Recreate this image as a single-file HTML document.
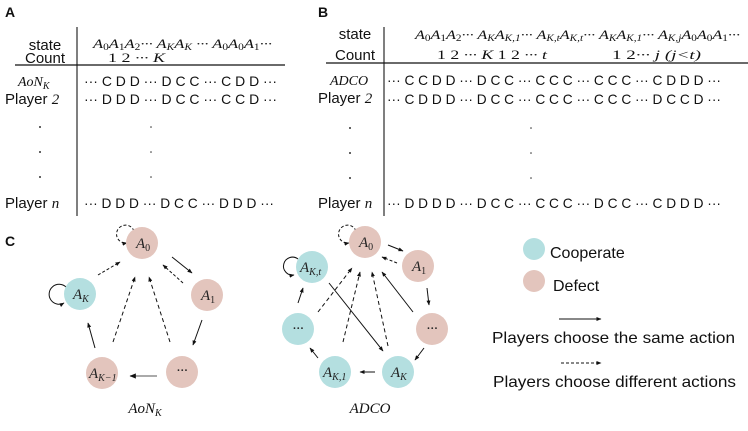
<!DOCTYPE html>
<html><head><meta charset="utf-8"><style>
html,body{margin:0;padding:0;background:#fff}
svg{display:block}
.s{font-family:"Liberation Sans",sans-serif;fill:#111}
.m{font-family:"Liberation Serif",serif;font-style:italic;fill:#111}
.n{font-family:"Liberation Serif",serif;font-style:italic;fill:#222;font-size:15px}
.sb{font-size:9px;font-style:normal}
.si{font-size:9px}
</style></head><body>
<svg width="748" height="431" viewBox="0 0 748 431" xmlns="http://www.w3.org/2000/svg">
<defs>
<marker id="ah" viewBox="0 0 10 10" refX="9" refY="5" markerWidth="5" markerHeight="5" orient="auto"><path d="M0,1 L10,5 L0,9 z" fill="#111"/></marker>
</defs>
<!-- Panel A -->
<text x="5" y="17" class="s" font-weight="bold" font-size="14">A</text>
<line x1="77" y1="27" x2="77" y2="216" stroke="#555" stroke-width="1.5"/>
<line x1="15" y1="65" x2="285" y2="65" stroke="#111" stroke-width="1.2"/>
<text x="45" y="50" class="s" font-size="15" text-anchor="middle">state</text>
<text x="45" y="63" class="s" font-size="15" text-anchor="middle">Count</text>
<text x="93" y="48" class="m" font-size="13" textLength="179" lengthAdjust="spacingAndGlyphs">A<tspan class="sb" dy="2">0</tspan><tspan dy="-2">A</tspan><tspan class="sb" dy="2">1</tspan><tspan dy="-2">A</tspan><tspan class="sb" dy="2">2</tspan><tspan dy="-2">··· A</tspan><tspan class="si" dy="2">K</tspan><tspan dy="-2">A</tspan><tspan class="si" dy="2">K</tspan><tspan dy="-2"> ···  A</tspan><tspan class="sb" dy="2">0</tspan><tspan dy="-2">A</tspan><tspan class="sb" dy="2">0</tspan><tspan dy="-2">A</tspan><tspan class="sb" dy="2">1</tspan><tspan dy="-2">···</tspan></text>
<text x="108" y="62" class="m" font-size="13" textLength="57" lengthAdjust="spacingAndGlyphs"><tspan font-style="normal">1 2</tspan> ··· K</text>
<text x="18" y="86" class="m" font-size="14">AoN<tspan font-size="10" dy="3">K</tspan></text>
<text x="5" y="104" class="s" font-size="15">Player <tspan class="m">2</tspan></text>
<text x="5" y="208" class="s" font-size="15">Player <tspan class="m">n</tspan></text>
<text x="84" y="86" class="s" font-size="14" textLength="193" lengthAdjust="spacingAndGlyphs">··· C D D ··· D C C ··· C D D  ···</text>
<text x="84" y="104" class="s" font-size="14" textLength="193" lengthAdjust="spacingAndGlyphs">··· D D D ··· D C C ··· C C D  ···</text>
<text x="84" y="208" class="s" font-size="14" textLength="190" lengthAdjust="spacingAndGlyphs">··· D D D ··· D C C ··· D D D ···</text>
<g fill="#333"><circle cx="40" cy="127" r="1"/><circle cx="40" cy="152" r="1"/><circle cx="40" cy="177" r="1"/>
<circle cx="151" cy="127" r="0.8"/><circle cx="151" cy="152" r="0.8"/><circle cx="151" cy="177" r="0.8"/></g>
<!-- Panel B -->
<text x="318" y="17" class="s" font-weight="bold" font-size="14">B</text>
<line x1="384" y1="27" x2="384" y2="216" stroke="#555" stroke-width="1.5"/>
<line x1="326" y1="63" x2="748" y2="63" stroke="#111" stroke-width="1.2"/>
<text x="355" y="39" class="s" font-size="15" text-anchor="middle">state</text>
<text x="355" y="60" class="s" font-size="15" text-anchor="middle">Count</text>
<text x="415" y="39" class="m" font-size="13" textLength="325" lengthAdjust="spacingAndGlyphs">A<tspan class="sb" dy="2">0</tspan><tspan dy="-2">A</tspan><tspan class="sb" dy="2">1</tspan><tspan dy="-2">A</tspan><tspan class="sb" dy="2">2</tspan><tspan dy="-2">··· A</tspan><tspan class="si" dy="2">K</tspan><tspan dy="-2">A</tspan><tspan class="si" dy="2">K,1</tspan><tspan dy="-2">··· A</tspan><tspan class="si" dy="2">K,t</tspan><tspan dy="-2">A</tspan><tspan class="si" dy="2">K,t</tspan><tspan dy="-2">··· A</tspan><tspan class="si" dy="2">K</tspan><tspan dy="-2">A</tspan><tspan class="si" dy="2">K,1</tspan><tspan dy="-2">··· A</tspan><tspan class="si" dy="2">K,j</tspan><tspan dy="-2">A</tspan><tspan class="sb" dy="2">0</tspan><tspan dy="-2">A</tspan><tspan class="sb" dy="2">0</tspan><tspan dy="-2">A</tspan><tspan class="sb" dy="2">1</tspan><tspan dy="-2">···</tspan></text>
<text x="437" y="59" class="m" font-size="13" textLength="110" lengthAdjust="spacingAndGlyphs"><tspan font-style="normal">1 2</tspan> ··· K <tspan font-style="normal">1 2</tspan> ··· t</text>
<text x="612" y="59" class="m" font-size="13" textLength="89" lengthAdjust="spacingAndGlyphs"><tspan font-style="normal">1  2</tspan>···  j (j&lt;t)</text>
<text x="330" y="85" class="m" font-size="14">ADCO</text>
<text x="318" y="103" class="s" font-size="15">Player <tspan class="m">2</tspan></text>
<text x="318" y="208" class="s" font-size="15">Player <tspan class="m">n</tspan></text>
<text x="387" y="85" class="s" font-size="14" textLength="334" lengthAdjust="spacingAndGlyphs">··· C C D D ··· D C C ··· C C C ··· C C C ··· C D D D ···</text>
<text x="387" y="104" class="s" font-size="14" textLength="334" lengthAdjust="spacingAndGlyphs">··· C D D D ··· D C C ··· C C C ··· C C C ··· D C C D ···</text>
<text x="387" y="208" class="s" font-size="14" textLength="334" lengthAdjust="spacingAndGlyphs">··· D D D D ··· D C C ··· C C C ··· D C C ··· C D D D ···</text>
<g fill="#333"><circle cx="350" cy="128" r="1"/><circle cx="350" cy="153" r="1"/><circle cx="350" cy="178" r="1"/>
<circle cx="531" cy="128" r="0.8"/><circle cx="531" cy="153" r="0.8"/><circle cx="531" cy="178" r="0.8"/></g>
<!-- Panel C -->
<text x="5" y="246" class="s" font-weight="bold" font-size="14">C</text>
<g fill="none" stroke="#111" stroke-width="1">
<line x1="98" y1="275" x2="120" y2="262" stroke-dasharray="3,2" marker-end="url(#ah)"/>
<line x1="172" y1="257" x2="192" y2="273" marker-end="url(#ah)"/>
<line x1="183" y1="283" x2="163" y2="265" stroke-dasharray="3,2" marker-end="url(#ah)"/>
<line x1="202" y1="320" x2="193" y2="345" marker-end="url(#ah)"/>
<line x1="157" y1="376" x2="130" y2="376" stroke="#777" stroke-width="1.3" marker-end="url(#ah)"/>
<line x1="95" y1="348" x2="88" y2="323" marker-end="url(#ah)"/>
<line x1="113" y1="342" x2="135" y2="277" stroke-dasharray="4,3" marker-end="url(#ah)"/>
<line x1="170" y1="342" x2="149" y2="277" stroke-dasharray="4,3" marker-end="url(#ah)"/>
<path d="M66,287 A10,10 0 1 0 64,303" marker-end="url(#ah)"/>
<path d="M134,231 A9,9 0 1 0 127,243" stroke-dasharray="3,2" marker-end="url(#ah)"/>
<line x1="388" y1="245" x2="403" y2="251" marker-end="url(#ah)"/>
<line x1="397" y1="263" x2="382" y2="257" stroke-dasharray="3,2" marker-end="url(#ah)"/>
<line x1="427" y1="288" x2="429" y2="305" marker-end="url(#ah)"/>
<line x1="424" y1="348" x2="415" y2="360" marker-end="url(#ah)"/>
<line x1="375" y1="372" x2="360" y2="372" marker-end="url(#ah)"/>
<line x1="318" y1="358" x2="310" y2="348" marker-end="url(#ah)"/>
<line x1="298" y1="303" x2="303" y2="288" marker-end="url(#ah)"/>
<line x1="318" y1="312" x2="352" y2="268" stroke-dasharray="4,3" marker-end="url(#ah)"/>
<line x1="329" y1="283" x2="383" y2="351" marker-end="url(#ah)"/>
<line x1="343" y1="342" x2="360" y2="272" stroke-dasharray="4,3" marker-end="url(#ah)"/>
<line x1="388" y1="346" x2="372" y2="272" stroke-dasharray="4,3" marker-end="url(#ah)"/>
<line x1="413" y1="312" x2="382" y2="272" marker-end="url(#ah)"/>
<path d="M298,259 A9,9 0 1 0 294,275" marker-end="url(#ah)"/>
<path d="M356,231 A9,9 0 1 0 349,243" stroke-dasharray="3,2" marker-end="url(#ah)"/>
</g>
<g stroke="none">
<circle cx="142" cy="243" r="16" fill="#e3c5bd"/>
<circle cx="80" cy="294" r="16" fill="#b4dfe0"/>
<circle cx="207" cy="295" r="16" fill="#e3c5bd"/>
<circle cx="102" cy="373" r="16" fill="#e3c5bd"/>
<circle cx="182" cy="372" r="16" fill="#e3c5bd"/>
<circle cx="365" cy="242" r="16" fill="#e3c5bd"/>
<circle cx="418" cy="266" r="16" fill="#e3c5bd"/>
<circle cx="312" cy="267" r="16" fill="#b4dfe0"/>
<circle cx="298" cy="329" r="16" fill="#b4dfe0"/>
<circle cx="432" cy="329" r="16" fill="#e3c5bd"/>
<circle cx="335" cy="372" r="16" fill="#b4dfe0"/>
<circle cx="398" cy="372" r="16" fill="#b4dfe0"/>
</g>
<text x="136" y="248" class="n">A<tspan font-size="10" font-style="normal" dy="3">0</tspan></text>
<text x="73" y="299" class="n">A<tspan font-size="10" dy="3">K</tspan></text>
<text x="201" y="300" class="n">A<tspan font-size="10" font-style="normal" dy="3">1</tspan></text>
<text x="89" y="378" class="n">A<tspan font-size="10" dy="3">K−1</tspan></text>
<text x="182" y="375" class="n" font-size="11" text-anchor="middle">···</text>
<text x="145" y="413" class="m" font-size="15" text-anchor="middle">AoN<tspan font-size="10" dy="3">K</tspan></text>
<text x="359" y="247" class="n">A<tspan font-size="10" font-style="normal" dy="3">0</tspan></text>
<text x="412" y="271" class="n">A<tspan font-size="10" font-style="normal" dy="3">1</tspan></text>
<text x="300" y="272" class="n">A<tspan font-size="10" dy="3">K,t</tspan></text>
<text x="298" y="333" class="n" font-size="12" text-anchor="middle">···</text>
<text x="432" y="333" class="n" font-size="12" text-anchor="middle">···</text>
<text x="323" y="377" class="n">A<tspan font-size="10" dy="3">K,1</tspan></text>
<text x="391" y="377" class="n">A<tspan font-size="10" dy="3">K</tspan></text>
<text x="370" y="413" class="m" font-size="15" text-anchor="middle">ADCO</text>
<circle cx="534" cy="249" r="11" fill="#b4dfe0"/>
<circle cx="534" cy="281" r="11" fill="#e3c5bd"/>
<text x="550" y="258" class="s" font-size="16">Cooperate</text>
<text x="553" y="291" class="s" font-size="16">Defect</text>
<line x1="559" y1="319" x2="601" y2="319" stroke="#111" stroke-width="1" marker-end="url(#ah)"/>
<text x="492" y="343" class="s" font-size="16" textLength="243" lengthAdjust="spacingAndGlyphs">Players choose the same action</text>
<line x1="561" y1="363" x2="601" y2="363" stroke="#111" stroke-width="1" stroke-dasharray="3,2" marker-end="url(#ah)"/>
<text x="493" y="387" class="s" font-size="16" textLength="243" lengthAdjust="spacingAndGlyphs">Players choose different actions</text>
</svg>
</body></html>
